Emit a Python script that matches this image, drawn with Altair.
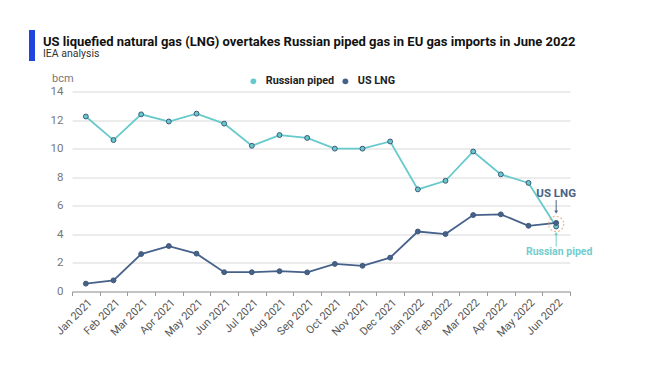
import altair as alt
import pandas as pd

months = ["Jan 2021", "Feb 2021", "Mar 2021", "Apr 2021", "May 2021", "Jun 2021",
          "Jul 2021", "Aug 2021", "Sep 2021", "Oct 2021", "Nov 2021", "Dec 2021",
          "Jan 2022", "Feb 2022", "Mar 2022", "Apr 2022", "May 2022", "Jun 2022"]
russian_piped = [12.25, 10.6, 12.4, 11.9, 12.45, 11.75, 10.2, 10.95, 10.75, 10.0,
                 10.0, 10.5, 7.15, 7.75, 9.8, 8.2, 7.6, 4.55]
us_lng = [0.55, 0.78, 2.62, 3.18, 2.65, 1.35, 1.35, 1.42, 1.34, 1.93,
          1.8, 2.37, 4.2, 4.02, 5.35, 5.4, 4.6, 4.8]
series_names = ["Russian piped", "US LNG"]
series_colors = ["#66c9cb", "#46618a"]
y_ticks = [0, 2, 4, 6, 8, 10, 12, 14]

title_text = "US liquefied natural gas (LNG) overtakes Russian piped gas in EU gas imports in June 2022"
subtitle_text = "IEA analysis"
unit_text = "bcm"

rows = []
for i, m in enumerate(months):
    rows.append({"month": m, "series": series_names[0], "value": russian_piped[i]})
    rows.append({"month": m, "series": series_names[1], "value": us_lng[i]})
df = pd.DataFrame(rows)

FONT = "Roboto"

xscale = alt.Scale(type="band", domain=months, paddingInner=0, paddingOuter=0)
yscale = alt.Scale(domain=[0, 14], nice=False)
cscale = alt.Scale(domain=series_names, range=series_colors)

x_axis = alt.Axis(title=None, labelAngle=-45, labelAlign="right",
                  labelBaseline="top", labelPadding=1,
                  tickBand="extent", tickSize=4, tickColor="#9a9a9a",
                  domainColor="#9a9a9a", grid=False, labelColor="#555",
                  labelFontSize=11, labelFont=FONT, labelOverlap=False)
y_axis = alt.Axis(title=None, values=y_ticks, grid=True,
                  gridColor="#e6e6e6", gridWidth=1.5, domain=False,
                  ticks=False, labelPadding=9, labelColor="#777",
                  labelFontSize=11.5, labelFont=FONT, labelOverlap=False)
legend = alt.Legend(title=None, orient="none", direction="horizontal",
                    legendX=176, legendY=-16, symbolType="circle",
                    symbolSize=34, symbolStrokeWidth=0,
                    labelFont=FONT, labelFontSize=10.8,
                    labelFontWeight="bold", labelColor="#222",
                    labelOffset=7, columnPadding=5, padding=0)

x_enc = alt.X("month:N", scale=xscale, sort=months, bandPosition=0.5, axis=x_axis)
y_enc = alt.Y("value:Q", scale=yscale, axis=y_axis)
c_enc = alt.Color("series:N", scale=cscale, legend=legend)

base = alt.Chart(df)

lines = base.mark_line(strokeWidth=1.8).encode(x=x_enc, y=y_enc, color=c_enc)

points = base.mark_point(filled=True, size=24, stroke="#3e5878", strokeWidth=1, opacity=1).encode(
    x=x_enc, y=y_enc, color=c_enc)

# annotations (data coordinates)
ann_x = "Jun 2022"
ann = pd.DataFrame({"month": [ann_x]})
xa = alt.X("month:N", scale=xscale, sort=months, bandPosition=0.5, axis=x_axis)


def ya(field):
    return alt.Y(field, scale=yscale, axis=y_axis)


circle = alt.Chart(ann).mark_point(shape="circle", size=230, filled=False,
                                   stroke="#e0a070", strokeWidth=1.3,
                                   strokeDash=[2, 2]).encode(
    x=xa, y=ya("v:Q")).transform_calculate(v="4.73")

lng_label = alt.Chart(ann).mark_text(text="US LNG", font=FONT, fontSize=11.5,
                                     fontWeight="bold", color="#4a6285").encode(
    x=xa, y=ya("v:Q")).transform_calculate(v="6.85")
lng_arrow = alt.Chart(ann).mark_rule(color="#4a6285", strokeWidth=1).encode(
    x=xa, y=ya("a:Q"), y2="b:Q").transform_calculate(a="6.4", b="5.65")
lng_head = alt.Chart(ann).mark_point(shape="triangle-down", size=14, filled=True,
                                     color="#4a6285", opacity=1).encode(
    x=xa, y=ya("v:Q")).transform_calculate(v="5.55")

rus_label = alt.Chart(ann).mark_text(text="Russian piped", font=FONT, fontSize=10.5,
                                     fontWeight="bold", color="#72cdcf", dx=3).encode(
    x=xa, y=ya("v:Q")).transform_calculate(v="2.75")
rus_arrow = alt.Chart(ann).mark_rule(color="#72cdcf", strokeWidth=1).encode(
    x=xa, y=ya("a:Q"), y2="b:Q").transform_calculate(a="3.15", b="3.95")
rus_head = alt.Chart(ann).mark_point(shape="triangle-up", size=14, filled=True,
                                     color="#72cdcf", opacity=1).encode(
    x=xa, y=ya("v:Q")).transform_calculate(v="4.05")

# title block (pixel positions relative to plot area)
bar = alt.Chart(ann).mark_rect(color="#1f44e0").encode(
    x=alt.value(-43), x2=alt.value(-37), y=alt.value(-61.5), y2=alt.value(-30.5))
title = alt.Chart(ann).mark_text(text=title_text, font=FONT, fontSize=13,
                                 fontWeight="bold", color="#111", align="left",
                                 baseline="alphabetic").encode(
    x=alt.value(-29), y=alt.value(-46))
subtitle = alt.Chart(ann).mark_text(text=subtitle_text, font=FONT, fontSize=10.5,
                                    color="#333", align="left",
                                    baseline="alphabetic").encode(
    x=alt.value(-29), y=alt.value(-34.5))
unit = alt.Chart(ann).mark_text(text=unit_text, font=FONT, fontSize=11,
                                color="#777", align="left",
                                baseline="alphabetic").encode(
    x=alt.value(-20), y=alt.value(-9.5))

chart = alt.layer(lines, points, circle, lng_label, lng_arrow, lng_head,
                  rus_label, rus_arrow, rus_head, bar, title, subtitle, unit).properties(
    width=498, height=200,
    autosize=alt.AutoSizeParams(type="none"),
    padding={"left": 64, "top": 83.5, "right": 70, "bottom": 60},
    background="white",
).configure_view(stroke=None)

chart.save("out.html", embed_options={"renderer": "svg", "actions": False})
